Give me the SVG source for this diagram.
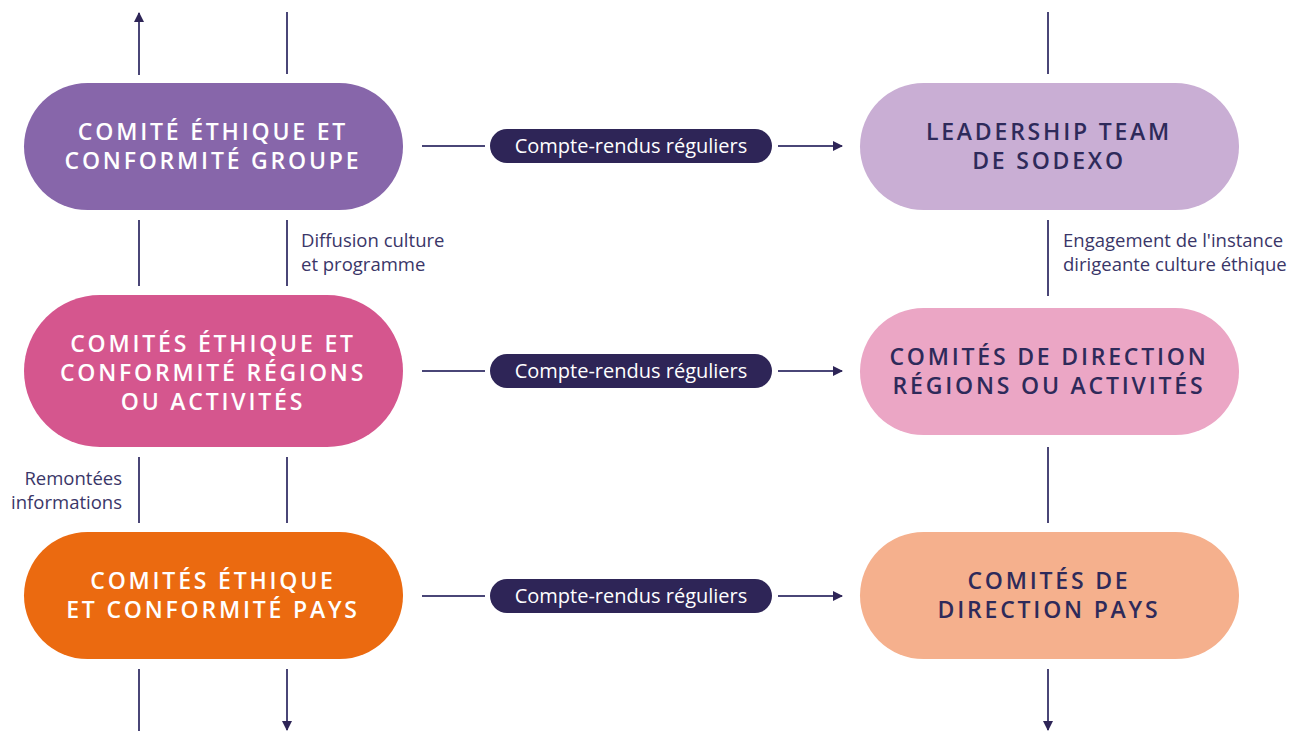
<svg xmlns="http://www.w3.org/2000/svg" width="1301" height="731" viewBox="0 0 1301 731">
<defs>
<style>
.t{font-family:"Open Sans","Liberation Sans",sans-serif;font-weight:600;font-size:23px;letter-spacing:2.8px;text-anchor:middle}
.w{fill:#ffffff}
.d{fill:#2e2a5a}
.lbl{font-family:"Open Sans","Liberation Sans",sans-serif;font-size:18.5px;fill:#3a3668}
.pt{font-family:"Open Sans","Liberation Sans",sans-serif;font-size:20px;fill:#ffffff;text-anchor:middle}
.ln{stroke:#4a4677;stroke-width:2;fill:none}
.pill{fill:#2e2557}
</style>
<marker id="ah" viewBox="0 0 10 10" refX="9" refY="5" markerWidth="5" markerHeight="5" orient="auto" markerUnits="strokeWidth">
<path d="M0,0 L10,5 L0,10 z" fill="#2e2557"/>
</marker>
</defs>
<rect width="1301" height="731" fill="#ffffff"/>
<g id="connectors">
<line class="ln" x1="139" y1="75" x2="139" y2="13" marker-end="url(#ah)"/>
<line class="ln" x1="287" y1="12" x2="287" y2="74"/>
<line class="ln" x1="139" y1="220" x2="139" y2="286"/>
<line class="ln" x1="287" y1="220" x2="287" y2="286"/>
<line class="ln" x1="139" y1="457" x2="139" y2="523"/>
<line class="ln" x1="287" y1="457" x2="287" y2="523"/>
<line class="ln" x1="139" y1="669" x2="139" y2="731"/>
<line class="ln" x1="287" y1="669" x2="287" y2="730" marker-end="url(#ah)"/>
<line class="ln" x1="1048" y1="12" x2="1048" y2="74"/>
<line class="ln" x1="1048" y1="220" x2="1048" y2="296"/>
<line class="ln" x1="1048" y1="447" x2="1048" y2="523"/>
<line class="ln" x1="1048" y1="669" x2="1048" y2="730" marker-end="url(#ah)"/>
<line class="ln" x1="422" y1="146" x2="485" y2="146"/>
<line class="ln" x1="778" y1="146" x2="842" y2="146" marker-end="url(#ah)"/>
<line class="ln" x1="422" y1="371" x2="485" y2="371"/>
<line class="ln" x1="778" y1="371" x2="842" y2="371" marker-end="url(#ah)"/>
<line class="ln" x1="422" y1="596" x2="485" y2="596"/>
<line class="ln" x1="778" y1="596" x2="842" y2="596" marker-end="url(#ah)"/>
<rect class="pill" x="490" y="129" width="282" height="34" rx="17"/>
<text class="pt" x="631" y="153">Compte-rendus réguliers</text>
<rect class="pill" x="490" y="354" width="282" height="34" rx="17"/>
<text class="pt" x="631" y="378">Compte-rendus réguliers</text>
<rect class="pill" x="490" y="579" width="282" height="34" rx="17"/>
<text class="pt" x="631" y="603">Compte-rendus réguliers</text>
<text class="lbl" x="301" y="247">Diffusion culture</text>
<text class="lbl" x="301" y="271">et programme</text>
<text class="lbl" x="1063" y="247">Engagement de l'instance</text>
<text class="lbl" x="1063" y="271">dirigeante culture éthique</text>
<text class="lbl" x="122" y="485" text-anchor="end">Remontées</text>
<text class="lbl" x="122" y="509" text-anchor="end">informations</text>
</g>
<g id="n-groupe">
<rect x="24" y="83" width="379" height="127" rx="63.5" fill="#8766aa"/>
<text class="t w" x="213" y="140">COMITÉ ÉTHIQUE ET</text>
<text class="t w" x="213" y="169">CONFORMITÉ GROUPE</text>
</g>
<g id="n-regions">
<rect x="24" y="295" width="379" height="152" rx="76" fill="#d5568e"/>
<text class="t w" x="213" y="352">COMITÉS ÉTHIQUE ET</text>
<text class="t w" x="213" y="381">CONFORMITÉ RÉGIONS</text>
<text class="t w" x="213" y="410">OU ACTIVITÉS</text>
</g>
<g id="n-pays">
<rect x="24" y="532" width="379" height="127" rx="63.5" fill="#eb6a10"/>
<text class="t w" x="213" y="589">COMITÉS ÉTHIQUE</text>
<text class="t w" x="213" y="618">ET CONFORMITÉ PAYS</text>
</g>
<g id="n-leadership">
<rect x="860" y="83" width="379" height="127" rx="63.5" fill="#c9aed4"/>
<text class="t d" x="1049" y="140">LEADERSHIP TEAM</text>
<text class="t d" x="1049" y="169">DE SODEXO</text>
</g>
<g id="n-direction-regions">
<rect x="860" y="308" width="379" height="127" rx="63.5" fill="#eba6c5"/>
<text class="t d" x="1049" y="365">COMITÉS DE DIRECTION</text>
<text class="t d" x="1049" y="394">RÉGIONS OU ACTIVITÉS</text>
</g>
<g id="n-direction-pays">
<rect x="860" y="532" width="379" height="127" rx="63.5" fill="#f5b08d"/>
<text class="t d" x="1049" y="589">COMITÉS DE</text>
<text class="t d" x="1049" y="618">DIRECTION PAYS</text>
</g>
</svg>
